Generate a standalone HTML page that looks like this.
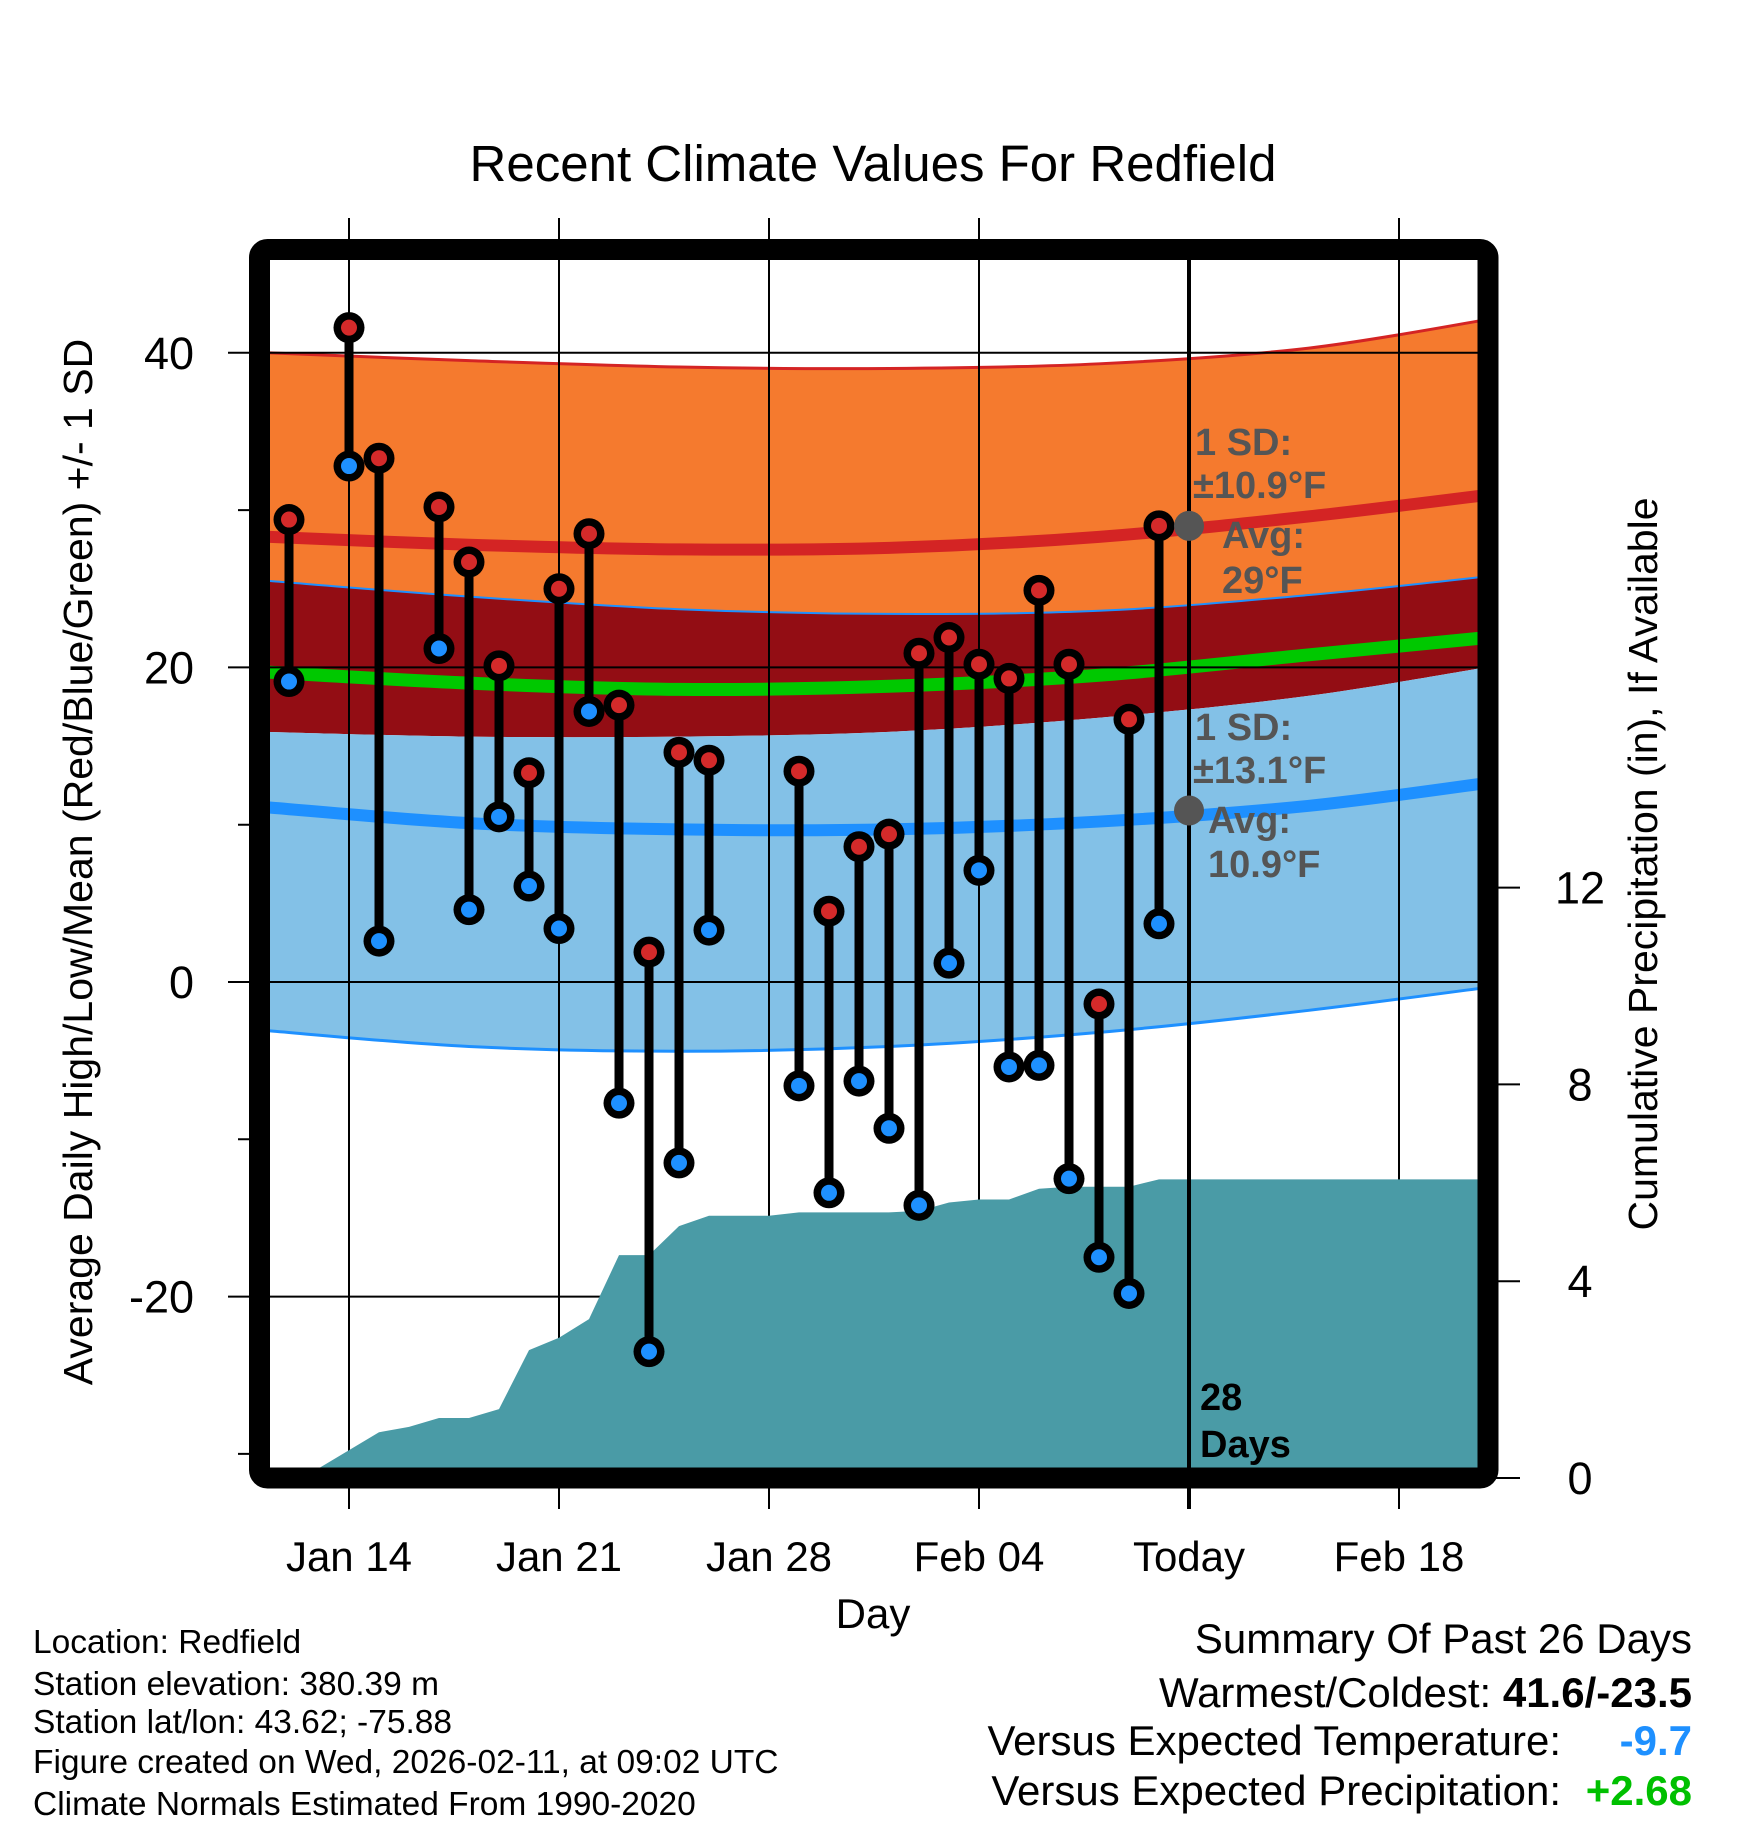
<!DOCTYPE html>
<html><head><meta charset="utf-8"><style>
html,body{margin:0;padding:0;background:#fff;}
svg{display:block;font-family:"Liberation Sans",sans-serif;}
</style></head><body>
<svg id="chart" width="1748" height="1828" viewBox="0 0 1748 1828" xmlns="http://www.w3.org/2000/svg">
<text x="873" y="181" font-size="51" text-anchor="middle">Recent Climate Values For Redfield</text>
<defs><clipPath id="plotclip"><rect x="270" y="260" width="1208" height="1218"/></clipPath></defs>
<g id="normals" clip-path="url(#plotclip)"></g>
<g id="grid"></g>
<g id="precip" clip-path="url(#plotclip)"></g>
<g id="today"></g>
<g id="obs"></g>
<rect x="259.5" y="249.5" width="1228.5" height="1228.5" rx="8" fill="none" stroke="#000" stroke-width="21"/>
<g id="ann" font-weight="bold" font-size="38" fill="#555">
<text x="1195" y="455">1 SD:</text>
<text x="1193" y="498">±10.9°F</text>
<text x="1222" y="548">Avg:</text>
<text x="1222" y="593">29°F</text>
<text x="1195" y="740">1 SD:</text>
<text x="1193" y="783">±13.1°F</text>
<text x="1208" y="833">Avg:</text>
<text x="1208" y="877">10.9°F</text>
</g>
<g font-weight="bold" font-size="38" fill="#000">
<text x="1200" y="1410">28</text>
<text x="1200" y="1457">Days</text>
</g>
<g id="axes"></g>
<text x="873" y="1628" font-size="42" text-anchor="middle">Day</text>
<text transform="translate(92,862) rotate(-90)" font-size="41" text-anchor="middle">Average Daily High/Low/Mean (Red/Blue/Green) +/- 1 SD</text>
<text transform="translate(1657,864) rotate(-90)" font-size="41" text-anchor="middle">Cumulative Precipitation (in), If Available</text>
<g font-size="33.5">
<text x="33" y="1653">Location: Redfield</text>
<text x="33" y="1695">Station elevation: 380.39 m</text>
<text x="33" y="1733">Station lat/lon: 43.62; -75.88</text>
<text x="33" y="1773">Figure created on Wed, 2026-02-11, at 09:02 UTC</text>
<text x="33" y="1815">Climate Normals Estimated From 1990-2020</text>
</g>
<g font-size="42" text-anchor="end">
<text x="1692" y="1653">Summary Of Past 26 Days</text>
<text x="1692" y="1707">Warmest/Coldest: <tspan font-weight="bold">41.6/-23.5</tspan></text>
<text x="1561" y="1755">Versus Expected Temperature:</text>
<text x="1692" y="1755" font-weight="bold" fill="#1e90ff">-9.7</text>
<text x="1561" y="1805">Versus Expected Precipitation:</text>
<text x="1692" y="1805" font-weight="bold" fill="#00c000">+2.68</text>
</g>
</svg>
<script>
// day offsets relative to Jan 14
const obsDays=[-2,0,1,3,4,5,6,7,8,9,10,11,12,15,16,17,18,19,20,21,22,23,24,25,26,27];
const highs=[29.4,41.6,33.3,30.2,26.7,20.1,13.3,25.0,28.5,17.6,1.9,14.6,14.1,13.4,4.5,8.6,9.4,20.9,21.9,20.2,19.3,24.9,20.2,-1.4,16.7,29.0];
const lows=[19.1,32.8,2.6,21.2,4.6,10.5,6.1,3.4,17.2,-7.7,-23.5,-11.5,3.3,-6.6,-13.4,-6.3,-9.3,-14.2,1.2,7.1,-5.4,-5.3,-12.5,-17.5,-19.8,3.7];
const normDays=[-2.7,4,11,18,25,32,38.5];
const highPlusSD=[40.0,39.5,39.1,39.0,39.3,40.3,42.3];
const avgHigh=[28.3,27.8,27.5,27.6,28.3,29.6,31.1];
const highMinusSD=[25.5,24.5,23.7,23.4,23.6,24.6,25.9];
const meanT=[19.7,19.0,18.6,18.8,19.5,20.8,22.0];
const lowPlusSD=[15.9,15.6,15.6,15.9,16.8,18.2,20.2];
const avgLow=[11.1,10.1,9.7,9.7,10.2,11.2,12.8];
const lowMinusSD=[-3.1,-4.1,-4.4,-4.1,-3.2,-1.8,-0.2];
const precipDays=[-2,-1,1,2,3,4,5,6,7,8,9,10,11,12,14,15,16,17,18,19,20,21,22,23,24,25,26,27,38.5];
const precipVals=[0,0.2,0.93,1.04,1.22,1.22,1.40,2.60,2.85,3.23,4.53,4.53,5.12,5.33,5.33,5.40,5.40,5.40,5.40,5.43,5.60,5.66,5.66,5.88,5.92,5.92,5.92,6.07,6.07];
const xTickDays=[0,7,14,21,28,35];
const xTickLabels=["Jan 14","Jan 21","Jan 28","Feb 04","Today","Feb 18"];
const yTicks=[40,20,0,-20];
const yMinor=[30,10,-10,-30];
const y2Ticks=[0,4,8,12];
const todayDay=28;
const todayHigh=29, todayLow=10.9;

const NS="http://www.w3.org/2000/svg";
const X=d=>349+30*d;
const Y=t=>982-15.73*t;
const P=p=>1478-49.2*p;
function mk(tag,attrs,parent){const e=document.createElementNS(NS,tag);for(const k in attrs)e.setAttribute(k,attrs[k]);parent.appendChild(e);return e;}
function smooth(xs,ys){
  const pts=xs.map((d,i)=>[X(d),Y(ys[i])]);
  let s="M"+pts[0][0]+","+pts[0][1];
  for(let i=0;i<pts.length-1;i++){
    const p0=pts[Math.max(0,i-1)],p1=pts[i],p2=pts[i+1],p3=pts[Math.min(pts.length-1,i+2)];
    const c1=[p1[0]+(p2[0]-p0[0])/6,p1[1]+(p2[1]-p0[1])/6];
    const c2=[p2[0]-(p3[0]-p1[0])/6,p2[1]-(p3[1]-p1[1])/6];
    s+=" C"+c1+" "+c2+" "+p2;
  }
  return s;
}
function band(a,b){
  const top=smooth(normDays,a);
  const rd=normDays.slice().reverse(), rb=b.slice().reverse();
  const bot=smooth(rd,rb).replace(/^M/,"L");
  return top+" "+bot+" Z";
}
const ng=document.getElementById('normals');
let e;
e=mk('path',{d:band(highPlusSD,highMinusSD),fill:'#f57a2e'},ng);


e=mk('path',{d:band(highMinusSD,lowPlusSD),fill:'#930d14'},ng);


e=mk('path',{d:band(lowPlusSD,lowMinusSD),fill:'#83c1e7'},ng);


e=mk('path',{d:smooth(normDays,highPlusSD),fill:'none',stroke:'#d42424','stroke-width':3},ng);


e=mk('path',{d:smooth(normDays,highMinusSD),fill:'none',stroke:'#1e90ff','stroke-width':2},ng);


e=mk('path',{d:smooth(normDays,lowMinusSD),fill:'none',stroke:'#1e90ff','stroke-width':3},ng);


e=mk('path',{d:smooth(normDays,meanT),fill:'none',stroke:'#00c800','stroke-width':13},ng);


e=mk('path',{d:smooth(normDays,avgHigh),fill:'none',stroke:'#d42424','stroke-width':12},ng);


e=mk('path',{d:smooth(normDays,avgLow),fill:'none',stroke:'#1e90ff','stroke-width':12},ng);



const gg=document.getElementById('grid');
xTickDays.forEach((d,i)=>{
  if(i===4)return;
  e=mk('line',{x1:X(d),x2:X(d),y1:218,y2:1509,stroke:'#000','stroke-width':2},gg);
  
  
});
yTicks.forEach(t=>{
  e=mk('line',{x1:228,x2:1478,y1:Y(t),y2:Y(t),stroke:'#000','stroke-width':2},gg);
  
  
});
yMinor.forEach(t=>{
  e=mk('line',{x1:238,x2:255,y1:Y(t),y2:Y(t),stroke:'#000','stroke-width':2},gg);
  
  
});
y2Ticks.forEach(p=>{
  e=mk('line',{x1:1490,x2:1520,y1:P(p),y2:P(p),stroke:'#000','stroke-width':2},gg);
  
  
});

const pg=document.getElementById('precip');
let pd="M"+X(precipDays[0])+","+P(0);
precipDays.forEach((d,i)=>{pd+=" L"+X(d)+","+P(precipVals[i]);});
pd+=" L"+X(precipDays[precipDays.length-1])+","+P(0)+" Z";
e=mk('path',{d:pd,fill:'#4a9ba6'},pg);



const tg=document.getElementById('today');
e=mk('line',{x1:X(todayDay),x2:X(todayDay),y1:250,y2:1509,stroke:'#000','stroke-width':4},tg);



const og=document.getElementById('obs');
obsDays.forEach((d,i)=>{
  const x=X(d);
  e=mk('line',{x1:x,x2:x,y1:Y(highs[i]),y2:Y(lows[i]),stroke:'#000','stroke-width':9},og);
  
  
});
obsDays.forEach((d,i)=>{
  const x=X(d);
  [[lows[i],'#1e90ff','low-dot'],[highs[i],'#d42a2a','high-dot']].forEach(v=>{
    e=mk('circle',{cx:x,cy:Y(v[0]),r:15.5,fill:'#000'},og);
    
    
    e=mk('circle',{cx:x,cy:Y(v[0]),r:8,fill:v[1]},og);
    
    
  });
});
e=mk('circle',{cx:X(todayDay),cy:Y(todayHigh),r:15,fill:'#555'},og);


e=mk('circle',{cx:X(todayDay),cy:Y(todayLow),r:15,fill:'#555'},og);



const ag=document.getElementById('axes');
xTickDays.forEach((d,i)=>{
  e=mk('text',{x:X(d),y:1571,'font-size':42,'text-anchor':'middle'},ag);
  e.textContent=xTickLabels[i];
  
  
});
yTicks.forEach(t=>{
  e=mk('text',{x:194,y:Y(t)+16,'font-size':45,'text-anchor':'end'},ag);
  e.textContent=String(t);
  
  
});
y2Ticks.forEach(p=>{
  e=mk('text',{x:1580,y:P(p)+16,'font-size':45,'text-anchor':'middle'},ag);
  e.textContent=String(p);
  
  
});
</script>
</body></html>
